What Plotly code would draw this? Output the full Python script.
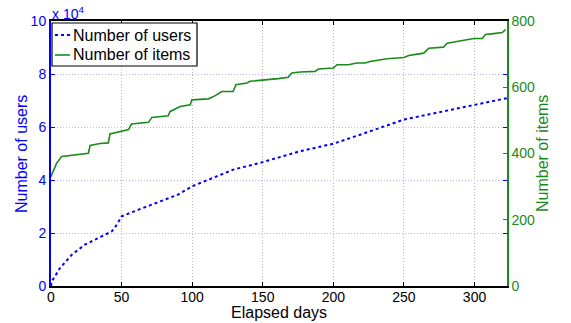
import plotly.graph_objects as go

# Cumulative number of users over time
user_days = [0, 0.5, 6.4, 14.7, 24, 33.5, 43, 46.6, 50, 62, 73.8, 90, 99.8, 109,
             129, 149, 176, 200, 212, 219, 250, 299.5, 323]
users = [0, 1700, 6800, 11800, 15600, 18100, 20600, 23100, 26300, 28800, 31300,
         34500, 37600, 39500, 43900, 46600, 50800, 53700, 55800, 57100, 62800,
         68400, 70900]

# Cumulative number of items over time
item_days = [0, 0.5, 4, 7.6, 26.5, 27.7, 34.8, 40.6, 41.8, 49, 55, 57, 69, 71.5,
             83, 84.4, 91.5, 98.6, 99.8, 111.6, 116, 121, 129, 131, 138.8, 141,
             149.4, 161, 168, 170.5, 176.6, 187, 189.5, 200, 202.6, 210.6, 216.6,
             222.6, 226, 238, 250, 253.5, 259.5, 264, 267.6, 278, 280.6, 287.7,
             297, 299.5, 305.4, 307.8, 313.7, 319.6, 322]
items = [330, 336, 371, 391, 401, 424, 430, 432, 459, 467, 472, 489, 494, 509,
         514, 527, 542, 547, 562, 565, 574, 587, 587, 608, 613, 618,
         621, 626, 630, 643, 646, 648, 655, 658, 668, 668, 673,
         673, 678, 686, 690, 696, 700, 703, 718, 721, 733, 738,
         743, 747, 747, 759, 762, 765, 774]

x_ticks = [0, 50, 100, 150, 200, 250, 300]
user_ticks = [0, 20000, 40000, 60000, 80000, 100000]
user_tick_text = ["0", "2", "4", "6", "8", "10"]
item_ticks = [0, 200, 400, 600, 800]

BLUE = "#0000ff"
GREEN = "#1a8a1a"
FONT = "Liberation Sans, Arial, sans-serif"

W, H = 571, 323
L, R, T, B = 51, 64, 21, 37
PW, PH = W - L - R, H - T - B


def px_x(px):
    """Pixel column -> paper x (relative to the plot area)."""
    return (px - L) / PW


def px_y(py):
    """Pixel row -> paper y (relative to the plot area)."""
    return (H - B - py) / PH


fig = go.Figure()
fig.add_trace(go.Scatter(
    x=user_days, y=users, mode="lines", name="Number of users",
    line=dict(color=BLUE, width=2, dash="3px,3px"), yaxis="y"))
fig.add_trace(go.Scatter(
    x=item_days, y=items, mode="lines", name="Number of items",
    line=dict(color=GREEN, width=1.6), yaxis="y2"))

# Boxed legend in the upper-left corner
legend_shapes = [
    dict(type="rect", xref="paper", yref="paper",
         x0=px_x(52), x1=px_x(197), y0=px_y(66), y1=px_y(23),
         line=dict(color="black", width=1.2), fillcolor="white", layer="above"),
    dict(type="line", xref="paper", yref="paper",
         x0=px_x(55), x1=px_x(70), y0=px_y(35), y1=px_y(35),
         line=dict(color=BLUE, width=2, dash="3px,3px"), layer="above"),
    dict(type="line", xref="paper", yref="paper",
         x0=px_x(55), x1=px_x(70), y0=px_y(55), y1=px_y(55),
         line=dict(color=GREEN, width=1.6), layer="above"),
]
legend_texts = [
    dict(text="Number of users", xref="paper", yref="paper",
         x=px_x(71), y=px_y(35), xanchor="left", yanchor="middle",
         showarrow=False, font=dict(size=16, color="black")),
    dict(text="Number of items", xref="paper", yref="paper",
         x=px_x(71), y=px_y(55), xanchor="left", yanchor="middle",
         showarrow=False, font=dict(size=16, color="black")),
]

axis_titles = [
    dict(text="Elapsed days", xref="paper", yref="paper",
         x=px_x(279), y=px_y(312), xanchor="center", yanchor="middle",
         showarrow=False, font=dict(size=16, color="black")),
    dict(text="Number of users", xref="paper", yref="paper",
         x=px_x(21), y=px_y(154), xanchor="center", yanchor="middle",
         textangle=-90, showarrow=False, font=dict(size=16, color=BLUE)),
    dict(text="Number of items", xref="paper", yref="paper",
         x=px_x(542), y=px_y(154), xanchor="center", yanchor="middle",
         textangle=-90, showarrow=False, font=dict(size=16, color=GREEN)),
    dict(text="x 10<sup>4</sup>", xref="paper", yref="paper",
         x=px_x(50), y=px_y(13), xanchor="left", yanchor="middle",
         showarrow=False, font=dict(size=14, color=BLUE)),
]

fig.update_layout(
    width=W, height=H,
    margin=dict(l=L, r=R, t=T, b=B, autoexpand=False),
    paper_bgcolor="white", plot_bgcolor="white",
    font=dict(family=FONT, size=14, color="black"),
    showlegend=False,
    xaxis=dict(
        range=[0, 323], tickvals=x_ticks, ticks="inside", ticklen=4,
        tickcolor="black", showline=True, linecolor="black", linewidth=1.5,
        mirror="ticks", showgrid=True, gridcolor="#b8b8b8",
        griddash="1px,2px", gridwidth=1, zeroline=False, automargin=False,
        ticklabelstandoff=-3,
        tickfont=dict(size=14, color="black"),
    ),
    yaxis=dict(
        range=[0, 100000], tickvals=user_ticks, ticktext=user_tick_text,
        ticks="inside", ticklen=4, tickcolor=BLUE, showline=True,
        linecolor=BLUE, linewidth=2, mirror="ticks", showgrid=True,
        gridcolor="#b8b8ff", griddash="1px,2px", gridwidth=1,
        zeroline=False, automargin=False,
        tickfont=dict(size=14, color=BLUE),
    ),
    yaxis2=dict(
        range=[0, 800], tickvals=item_ticks, overlaying="y", side="right",
        ticks="inside", ticklen=4, tickcolor=GREEN, showline=True,
        linecolor=GREEN, linewidth=1.5, showgrid=False, zeroline=False,
        automargin=False, tickfont=dict(size=14, color=GREEN),
    ),
    shapes=legend_shapes,
    annotations=axis_titles + legend_texts,
)

fig.write_html("out.html")
